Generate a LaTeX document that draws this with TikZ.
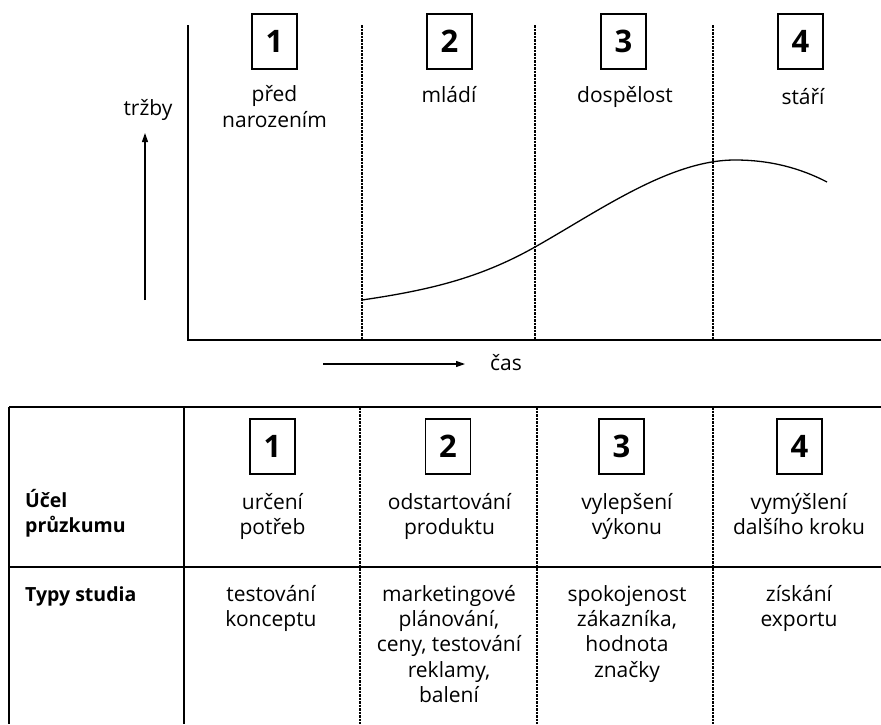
\documentclass[tikz,border=0pt]{standalone}
\usepackage{fontspec}
\setmainfont{Open Sans}
\usetikzlibrary{positioning}
\usetikzlibrary{arrows.meta}

\begin{document}
\begin{tikzpicture}[
    % one unit = one pixel of the scan, y downwards
    x=1pt, y=-1pt,
    % base anchor of a multi-line node sits on its last line
    lbl/.style={font=\fontsize{21}{25.4}\selectfont, align=center, inner sep=0pt, anchor=base},
    rowlbl/.style={font=\fontsize{19.5}{25.4}\selectfont\bfseries, align=left, inner sep=0pt, anchor=base west},
    numbox/.style={draw, line width=1.3pt, minimum width=45pt, minimum height=55pt, inner sep=0pt,
        font=\fontsize{31}{31}\selectfont\bfseries},
    axis/.style={line width=1.5pt},
    sep/.style={line width=1.2pt, dash pattern=on 2.5pt off 1pt},
    arr/.style={line width=1.1pt, -{Triangle[length=9pt,width=6pt]}}
]
    \useasboundingbox (0,0) rectangle (881,724);

    % Axes
    \coordinate (o) at (188,340);
    \coordinate (ytop) at (188,25);
    \coordinate (xend) at (881,340);
    \draw[axis] (ytop) -- (o) -- (xend);

    % Phase separators
    \foreach \x in {362,535,713} {
        \draw[sep] (\x,25) -- (\x,340);
    }

    % Phase numbers and names
    \foreach \x/\n in {274.5/1, 449.5/2, 623.5/3, 800.5/4} {
        \node[numbox] (ph\n) at (\x,41.5) {\n};
    }
    \node[lbl] (name1) at (274.5,127.1) {před\\narozením};
    \node[lbl] (name2) at (449,102) {mládí};
    \node[lbl] (name3) at (625,102) {dospělost};
    \node[lbl] (name4) at (803,104) {stáří};

    % Sales curve
    \draw[line width=1.3pt] (362,300) .. controls (430,290) and (480,278) .. (535,247)
        .. controls (600,210.3) and (670,160) .. (735,160)
        .. controls (770,160) and (800,168) .. (827,182);

    % Sales and time arrows
    \node[lbl] (sales) at (148,115) {tržby};
    \coordinate (sbot) at (145,300);
    \coordinate (stop) at (145,133);
    \draw[arr] (sbot) -- (stop);
    \node[lbl, anchor=base west] (time) at (490,370) {čas};
    \coordinate (tleft) at (323,364);
    \coordinate (tright) at (465,364);
    \draw[arr] (tleft) -- (tright);

    % Table frame
    \draw[axis] (9,407) -- (881,407);
    \draw[axis] (9,567) -- (881,567);
    \draw[axis] (9,407) -- (9,724);
    \draw[axis] (184,407) -- (184,724);
    \foreach \x in {360,537,713} {
        \draw[sep] (\x,407) -- (\x,724);
    }

    % Table numbers
    \foreach \x/\n in {272.5/1, 448/2, 621.5/3, 799.5/4} {
        \node[numbox] (tb\n) at (\x,446.5) {\n};
    }

    % Purpose row
    \node[rowlbl] (purpose) at (25,532.4) {Účel\\průzkumu};
    \node[lbl] (aim1) at (272.5,534.4) {určení\\potřeb};
    \node[lbl] (aim2) at (449.5,534.4) {odstartování\\produktu};
    \node[lbl] (aim3) at (627,534.4) {vylepšení\\výkonu};
    \node[lbl] (aim4) at (799,534.4) {vymýšlení\\dalšího kroku};

    % Study types row
    \node[rowlbl] (types) at (25,601) {Typy studia};
    \node[lbl] (study1) at (271,626.4) {testování\\konceptu};
    \node[lbl] (study2) at (449,702.6) {marketingové\\plánování,\\ceny, testování\\reklamy,\\balení};
    \node[lbl] (study3) at (627,677.2) {spokojenost\\zákazníka,\\hodnota\\značky};
    \node[lbl] (study4) at (799,626.4) {získání\\exportu};
\end{tikzpicture}
\end{document}
